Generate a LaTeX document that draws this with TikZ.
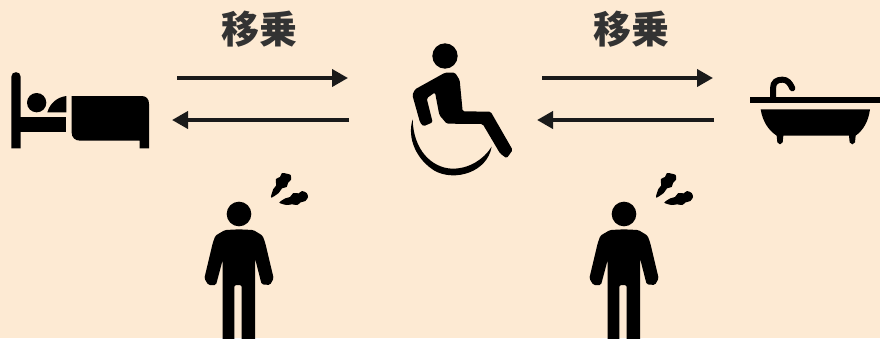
\documentclass[tikz,border=0pt]{standalone}
\usepackage{fontspec}
\newfontfamily\cjkb[Script=CJK]{Noto Sans CJK JP Black}
\usetikzlibrary{arrows.meta}
\definecolor{bgc}{HTML}{FDEAD3}
\definecolor{arrc}{HTML}{1A1A1A}
\definecolor{txtc}{HTML}{333333}
\tikzset{
 flow/.style={draw=arrc,line width=3.8pt,-{Triangle[length=16pt,width=17pt]}},
 lbl/.style={text=txtc,font=\cjkb\fontsize{38}{38}\selectfont,inner sep=0pt,anchor=center},
 icon/.style={fill=black,draw=none},
 icoline/.style={draw=black,line cap=round}
}
\newcommand{\personicon}[1]{%
 \begin{scope}[shift={(#1,165)},scale=1/3]
  \fill[icon] (147,147) circle (37);
  \fill[icon,rounded corners=1.5pt] (147,193) -- (105,195) -- (76,212) -- (68,235) -- (43,340) -- (55,360) -- (78,360) -- (98,285) -- (98,530) -- (133,530) -- (133,360) -- (155,360) -- (155,530) -- (195,530) -- (195,280) -- (215,358) -- (240,360) -- (251,340) -- (226,235) -- (218,212) -- (190,195) -- cycle;
  \fill[icon] plot[smooth cycle,tension=.45] coordinates {(243,98) (250,72) (258,62) (258,42) (270,36) (276,24) (290,26) (302,30) (303,44) (294,54) (290,66) (276,70) (266,84)};
  \fill[icon] plot[smooth cycle,tension=.45] coordinates {(268,113) (286,100) (300,96) (310,84) (326,85) (336,78) (350,84) (354,96) (346,108) (332,112) (322,120) (306,118) (290,120)};
 \end{scope}}
\begin{document}
\begin{tikzpicture}[x=1pt,y=-1pt]
\fill[bgc] (0,0) rectangle (880,338);
\useasboundingbox (0,0) rectangle (880,338);
\clip (0,0) rectangle (880,338);
% labels
\node[lbl] (lblA) at (259,29) {移乗};
\node[lbl] (lblB) at (631,29) {移乗};
% arrow end points
\coordinate (a1s) at (177,78); \coordinate (a1e) at (348,78);
\coordinate (a2s) at (349,120); \coordinate (a2e) at (172,120);
\coordinate (b1s) at (542,78); \coordinate (b1e) at (713,78);
\coordinate (b2s) at (714,120); \coordinate (b2e) at (537,120);
\draw[flow] (a1s) -- (a1e);
\draw[flow] (a2s) -- (a2e);
\draw[flow] (b1s) -- (b1e);
\draw[flow] (b2s) -- (b2e);
% bed
\begin{scope}[shift={(0,60)},scale=1/3]
 \fill[icon] (34,265) -- (34,50) .. controls (34,32) and (62,32) .. (62,50) -- (62,265) -- cycle;
 \fill[icon] (50,172) rectangle (199,217);
 \fill[icon] (110,128) circle (29);
 \fill[icon] (142,157) .. controls (150,130) and (170,112) .. (199,108) -- (199,157) -- cycle;
 \fill[icon] (215,108) -- (425,108) .. controls (440,108) and (447,118) .. (447,132) -- (447,265) -- (419,265) -- (419,242) -- (240,242) .. controls (225,242) and (215,232) .. (215,218) -- cycle;
\end{scope}
% wheelchair
\begin{scope}[shift={(400,35)},scale=1/3]
 \fill[icon] (135,63) circle (38);
 \fill[icon,rounded corners=1.5pt] (135,113) -- (165,113) -- (179,135) -- (188,229) -- (272,230) -- (338,345) -- (320,370) -- (300,355) -- (248,267) -- (140,266) -- (118,240) -- (105,172) -- (80,190) -- (98,262) -- (70,274) -- (60,262) -- (37,180) -- (45,163) -- cycle;
 \fill[icon] (38,253) .. controls (20,310) and (50,375) .. (105,408) .. controls (165,440) and (262,412) .. (275,335) .. controls (250,375) and (205,402) .. (155,401) .. controls (95,398) and (40,345) .. (38,253) -- cycle;
\end{scope}
% bath
\begin{scope}[shift={(740,65)},scale=1/3]
 \fill[icon] (30,97) rectangle (420,115);
 \draw[icoline,line width=6pt] (99,100) -- (99,70) .. controls (99,50) and (112,44) .. (127,44) .. controls (142,44) and (150,54) .. (157,70);
 \fill[icon] (62,133) -- (390,133) .. controls (385,170) and (370,195) .. (347,212) -- (345,232) -- (337,238) -- (329,232) -- (327,212) -- (130,212) -- (128,232) -- (120,238) -- (112,232) -- (110,212) .. controls (85,195) and (68,170) .. (62,133) -- cycle;
\end{scope}
% people
\personicon{190}
\personicon{575}
\end{tikzpicture}
\end{document}
